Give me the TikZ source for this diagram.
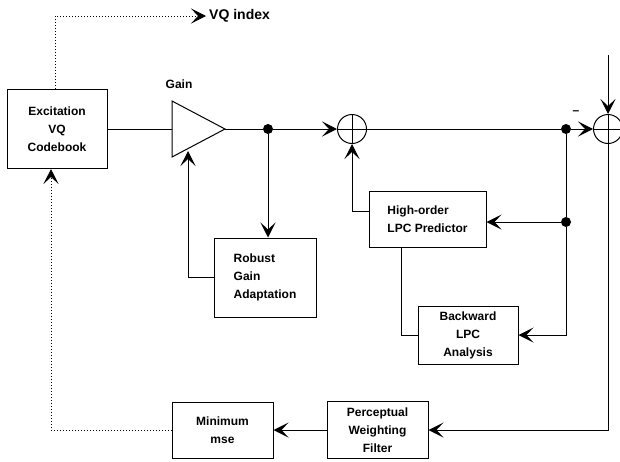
\documentclass[tikz,border=0pt]{standalone}
\usepackage{fontspec}
\setmainfont{Liberation Sans}
\usetikzlibrary{arrows.meta, positioning, calc}

\begin{document}
\begin{tikzpicture}[x=1pt, y=-1pt,
  block/.style={draw, line width=1pt, align=center, inner sep=0pt,
                font=\fontsize{12}{18}\selectfont\bfseries},
  sum/.style={draw, circle, line width=1pt, minimum size=29pt, inner sep=0pt,
              path picture={\draw[line width=1pt]
                (path picture bounding box.north) -- (path picture bounding box.south)
                (path picture bounding box.west) -- (path picture bounding box.east);}},
  dot/.style={circle, fill, minimum size=10pt, inner sep=0pt},
  lbl/.style={font=\fontsize{12}{14}\selectfont\bfseries},
  wire/.style={line width=1pt},
  arr/.style={wire, -{Stealth[length=15pt, width=15pt, inset=7pt]}},
  fb/.style={arr, dotted},
]
  \useasboundingbox (0,0) rectangle (620,461);

  % blocks
  \node[block, minimum width=100pt, minimum height=79pt] (exc) at (57,129) {Excitation\\VQ\\Codebook};
  \node[block, align=left, minimum width=102pt, minimum height=79pt] (rga) at (265,277.5) {Robust\\Gain\\Adaptation};
  \node[block, align=left, minimum width=117pt, minimum height=56pt] (hop) at (427.5,219) {High-order\\LPC Predictor};
  \node[block, minimum width=100pt, minimum height=58pt] (bla) at (468,335) {Backward\\LPC\\Analysis};
  \node[block, minimum width=101pt, minimum height=57pt] (pwf) at (377.5,430) {Perceptual\\Weighting\\Filter};
  \node[block, minimum width=101pt, minimum height=56pt] (mmse) at (222.5,430) {Minimum\\mse};

  % gain stage
  \coordinate (gtop) at (172,101);
  \coordinate (gout) at (225,129);
  \coordinate (gbot) at (172,157);
  \coordinate (gin) at (172,129);
  \coordinate (gfb) at (188,151);
  \draw[wire] (gtop) -- (gout) -- (gbot) -- cycle;
  \node[lbl] (gainlbl) at (179,84) {Gain};

  % junctions and adders
  \node[dot] (d1) at (268,129) {};
  \node[sum] (s1) at (352,129) {};
  \node[dot] (d2) at (566,129) {};
  \node[sum] (s2) at (608,129) {};
  \node[dot] (d3) at (566,222) {};
  \coordinate (sin) at (608,55);
  \node[lbl] (neg) at (576,113) {--};
  \node[lbl, anchor=west, inner xsep=3pt, font=\fontsize{14}{16}\selectfont\bfseries] (vq) at (206,16) {VQ index};

  % connections
  \draw[wire] (exc.east) -- (gin);
  \draw[wire] (gout) -- (d1);
  \draw[arr] (d1) -- (s1.west);
  \draw[wire] (s1.east) -- (d2);
  \draw[arr] (d2) -- (s2.west);
  \draw[arr] (sin) -- (s2.north);
  \draw[arr] (d1) -- (d1 |- rga.north);
  \draw[arr] (rga.west) -| (gfb);
  \draw[arr] ([yshift=8pt]hop.west) -| (s1.south);
  \draw[wire] (d2) -- (d3);
  \draw[arr] (d3) -- (d3 -| hop.east);
  \draw[arr] (d3) |- (bla.east);
  \draw[wire] ([xshift=-26.5pt]hop.south) |- (bla.west);
  \draw[arr] (s2.south) |- (pwf.east);
  \draw[arr] (pwf.west) -- (mmse.east);

  % search loop
  \draw[fb] (mmse.west) -| ([xshift=-6pt]exc.south);
  \draw[fb] ([xshift=-2pt]exc.north) |- (vq.west);
\end{tikzpicture}
\end{document}
